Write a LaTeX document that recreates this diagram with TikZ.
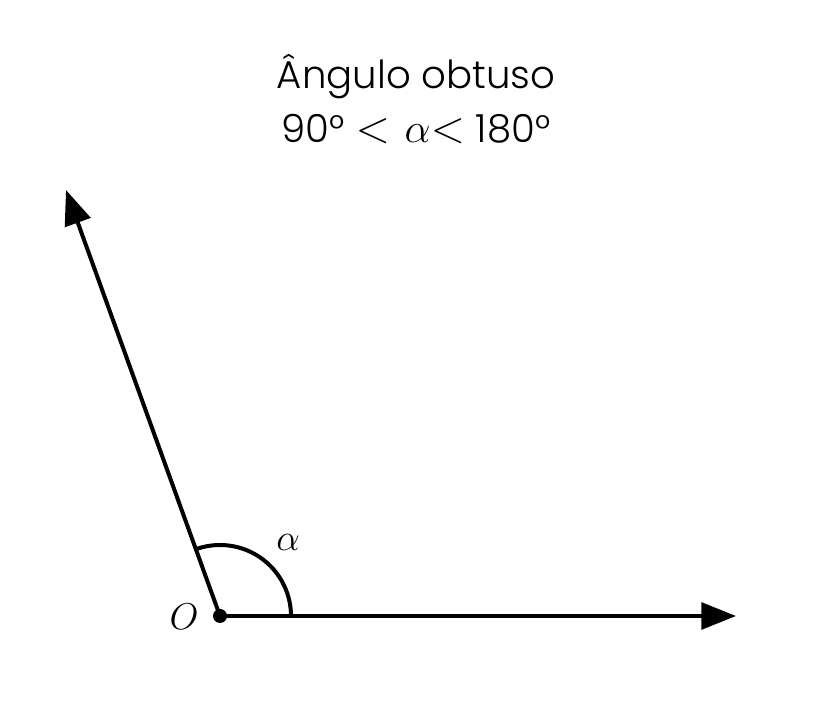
\RequirePackage{fix-cm}
\documentclass[tikz,border=0pt]{standalone}
\usepackage{fontspec}
\setmainfont{Poppins Light}
\usetikzlibrary{arrows.meta}
\newcommand{\biglt}{{\fontsize{34}{38}\selectfont$<$}}
\begin{document}
\begin{tikzpicture}[x=0.75pt,y=0.75pt,
  ray/.style={line width=3pt,-{Triangle[length=26pt,width=20pt]}},
  lbl/.style={font=\fontsize{28}{32}\selectfont, inner sep=0pt}]
\useasboundingbox (0,0) rectangle (820,720);
\coordinate (O) at (220,104);
\coordinate (A) at (736,104);
\coordinate (B) at (66,530);
\draw[ray] (O) -- (A);
\draw[ray] (O) -- (B);
\draw[line width=3pt] ([shift={(0:71)}]O) arc[start angle=0,end angle=109.7,radius=71];
\fill (O) circle[radius=7];
\node[lbl] (o) at (184,103) {$O$};
\node[lbl] (al) at (288,178) {$\alpha$};
\node[lbl,align=center,font=\fontsize{29}{40}\selectfont] (t) at (416,621) {Ângulo obtuso\\90°\hspace{8pt}\biglt\hspace{11pt}{\fontsize{31}{38}\selectfont$\alpha$}\biglt\hspace{8pt}180°};
\end{tikzpicture}
\end{document}
